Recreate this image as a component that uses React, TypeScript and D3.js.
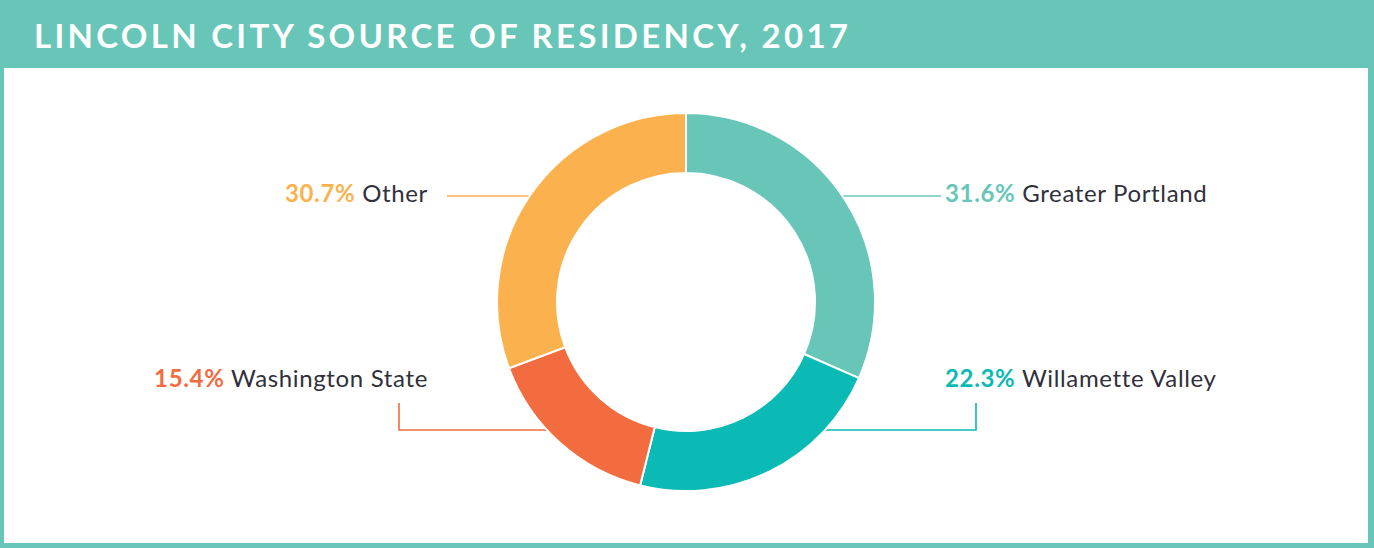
import React from "react";
import * as d3 from "d3";

const title = "LINCOLN CITY SOURCE OF RESIDENCY, 2017";
const categories = ["Greater Portland", "Willamette Valley", "Washington State", "Other"];
const values = [31.6, 22.3, 15.4, 30.7];
const colors = ["#67C6B8", "#0BBAB4", "#F26C3F", "#FBB24E"];

const W = 1374;
const H = 548;
const cx = 686;
const cy = 302;
const outerR = 189;
const innerR = 129;

type LabelSpec = { x: number; y: number; anchor: "start" | "end"; path: (edgeX: (y: number, side: number) => number) => string };

const edgeX = (y: number, side: number) => cx + side * Math.sqrt(outerR * outerR - (y - cy) * (y - cy)) * 0.985;

const labelSpecs: LabelSpec[] = [
  { x: 945, y: 202, anchor: "start", path: (e) => `M${e(196, 1)},196H941` },
  { x: 945, y: 387, anchor: "start", path: (e) => `M${e(430, 1)},430H976V403` },
  { x: 428, y: 387, anchor: "end", path: (e) => `M${e(430, -1)},430H399V403` },
  { x: 428, y: 202, anchor: "end", path: (e) => `M${e(196, -1)},196H447` },
];

export default function App() {
  const pie = d3.pie<number>().sort(null).value((d) => d);
  const arcs = pie(values);
  const arc = d3.arc<d3.PieArcDatum<number>>().innerRadius(innerR).outerRadius(outerR);
  const fmt = d3.format(".1f");

  return (
    <svg width={W} height={H} style={{ position: "fixed", left: 0, top: 0 }}>
      <rect x={0} y={0} width={W} height={H} fill="#67C6B8" />
      <rect x={4} y={68} width={1364} height={475} fill="#ffffff" />
      <text
        x={34}
        y={48}
        fill="#ffffff"
        fontFamily="Lato, 'DejaVu Sans', sans-serif"
        fontWeight={700}
        fontSize={33}
        textLength={814}
        lengthAdjust="spacing"
      >
        {title}
      </text>
      {labelSpecs.map((s, i) => (
        <path key={"l" + i} d={s.path(edgeX)} fill="none" stroke={colors[i]} strokeWidth={1.6} />
      ))}
      <g transform={`translate(${cx},${cy})`}>
        {arcs.map((a, i) => (
          <path key={i} d={arc(a) || ""} fill={colors[i]} stroke="#ffffff" strokeWidth={2} />
        ))}
      </g>
      {labelSpecs.map((s, i) => (
        <text
          key={"t" + i}
          x={s.x}
          y={s.y}
          textAnchor={s.anchor}
          fontFamily="Lato, 'Open Sans', sans-serif"
          fontSize={24}
          letterSpacing={0.65}
        >
          <tspan fill={colors[i]} fontWeight={700}>
            {fmt(values[i])}%
          </tspan>
          <tspan fill="#30303c"> {categories[i]}</tspan>
        </text>
      ))}
    </svg>
  );
}
